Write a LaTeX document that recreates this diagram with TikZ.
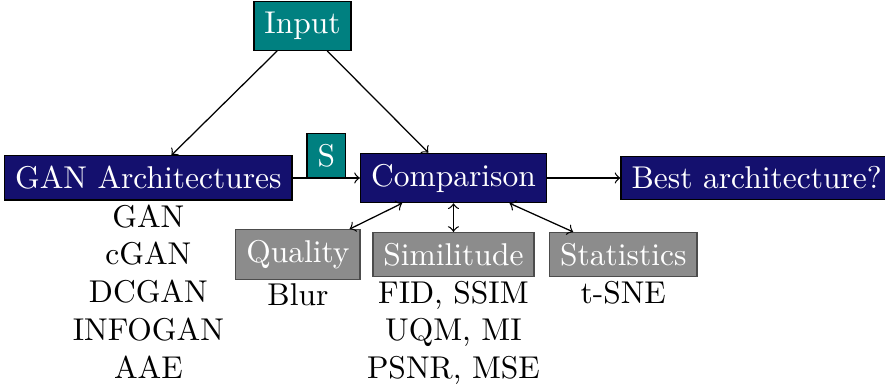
\documentclass[tikz,border=0pt]{standalone}
\usepackage{tikz}
\usetikzlibrary{shapes,arrows,positioning}
\definecolor{darknavy}{RGB}{20,16,110}
\definecolor{midgray}{RGB}{140,140,140}

\begin{document}
\begin{tikzpicture}[
    navybox/.style={draw=black, fill=darknavy, text=white},
    tealbox/.style={draw=black, fill=teal, text=white},
    graybox/.style={draw=black!70, fill=midgray, text=white},
    listtext/.style={align=center, inner sep=1pt}
]
    \useasboundingbox (-5.06,-2.366) rectangle (4.815,1.986);

    % Main row
    \node[navybox] (comp) {Comparison};
    \node[navybox, left=0.75cm of comp] (gan) {GAN Architectures};
    \node[navybox, right=0.82cm of comp] (best) {Best architecture?};
    \node[tealbox] (input) at (-1.685,1.696) {Input};

    % Metric families
    \node[graybox, below=0.32cm of comp] (sim) {Similitude};
    \node[graybox, left=0.13cm of sim] (qual) {Quality};
    \node[graybox, right=0.16cm of sim] (stat) {Statistics};

    % Lists under the boxes
    \node[listtext, below=0pt of gan] (ganlist) {GAN\\cGAN\\DCGAN\\INFOGAN\\AAE};
    \node[listtext, below=0pt of qual] (quallist) {Blur};
    \node[listtext, below=0pt of sim] (simlist) {FID, SSIM\\UQM, MI\\PSNR, MSE};
    \node[listtext, below=0pt of stat] (statlist) {t-SNE};

    % Connections
    \draw[->] (input) -- (gan);
    \draw[->] (input) -- (comp);
    \draw[->] (gan) -- node[above, tealbox] (s) {S} (comp);
    \draw[->] (comp) -- (best);
    \draw[<->] (comp) -- (qual);
    \draw[<->] (comp) -- (sim);
    \draw[<->] (comp) -- (stat);
\end{tikzpicture}
\end{document}
